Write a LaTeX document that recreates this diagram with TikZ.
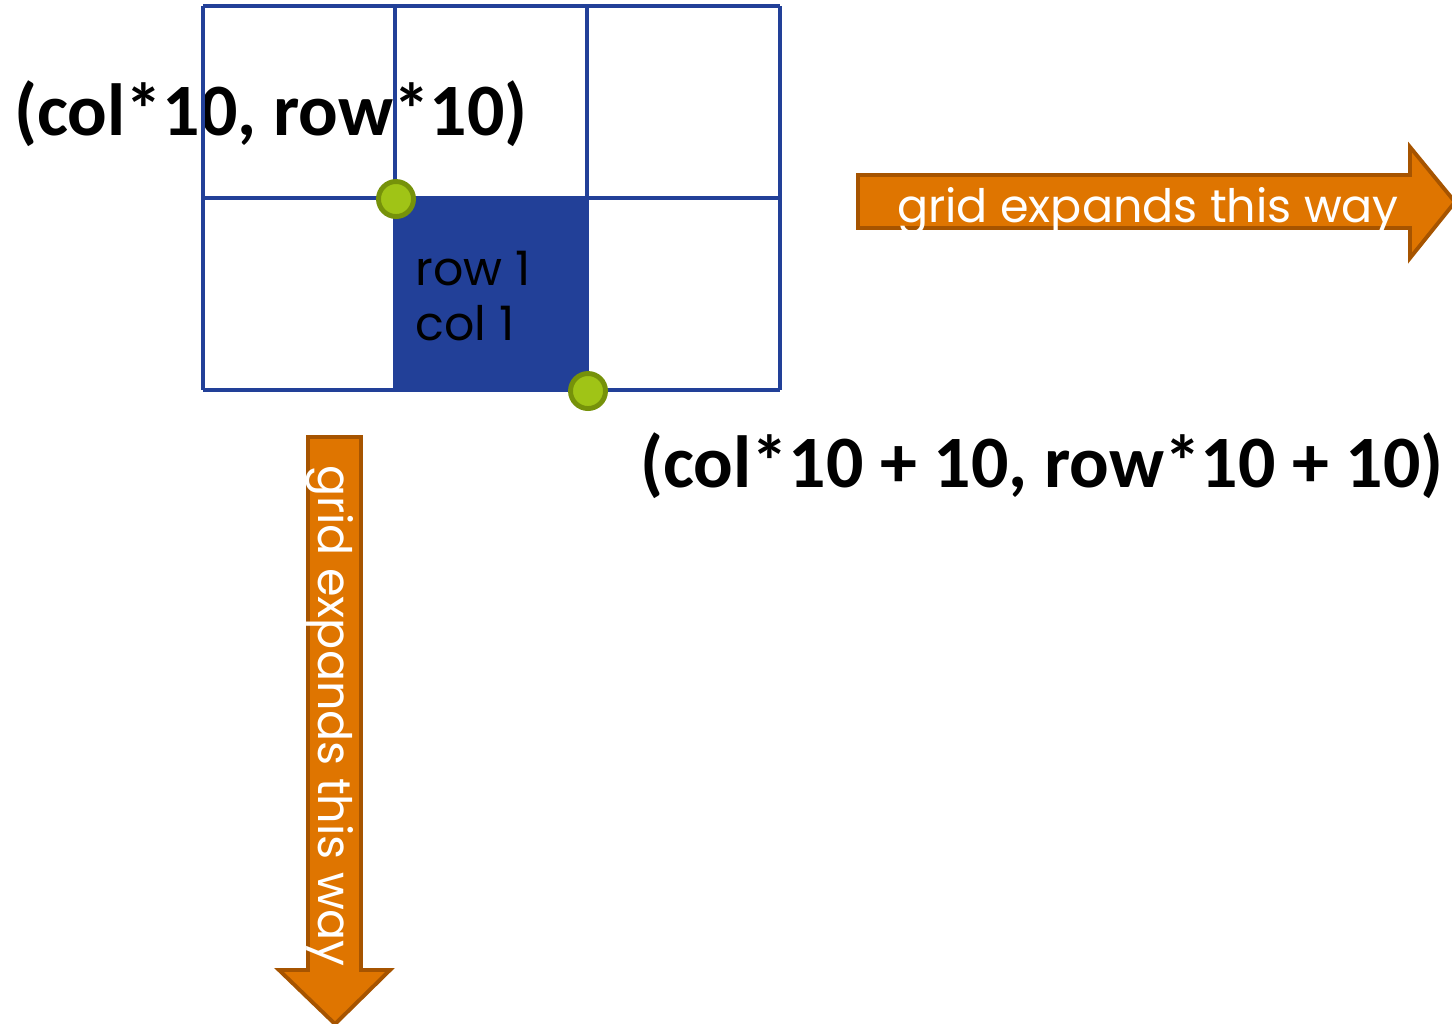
\documentclass[tikz,border=0pt]{standalone}
\usepackage{fontspec}
\setmainfont{Carlito}
\newfontfamily\gothic{Poppins}
\usepackage{tikz}

\definecolor{gridblue}{RGB}{34,64,152}
\definecolor{arroworange}{RGB}{223,117,0}
\definecolor{arrowedge}{RGB}{166,84,0}
\definecolor{dotgreen}{RGB}{160,196,22}
\definecolor{dotedge}{RGB}{118,146,10}

\tikzset{
 gridline/.style={draw=gridblue,line width=1.15pt},
 dot/.style={circle,fill=dotgreen,draw=dotedge,line width=1.4pt,minimum size=0.35cm,inner sep=0pt},
 growarrow/.style={fill=arroworange,draw=arrowedge,line width=1.1pt},
 growlbl/.style={text=white,inner sep=0pt,font=\gothic\fontsize{13.1}{15}\selectfont},
 celllbl/.style={inner sep=0pt,anchor=base west,font=\gothic\fontsize{13.5}{16}\selectfont},
 coordlbl/.style={inner sep=0pt,anchor=base,font=\bfseries\fontsize{21}{25}\selectfont}
}

\begin{document}
\begin{tikzpicture}[x=0.01cm,y=-0.01cm]
 \useasboundingbox (0,0) rectangle (1452,1023);
 % corner labels
 \node[coordlbl] (topleft) at (271,135) {(col*10, row*10)};
 \node[coordlbl] (botright) at (1042,487) {(col*10 + 10, row*10 + 10)};
 % the grid
 \fill[gridblue] (395,198) rectangle (588,390);
 \foreach \x in {203,395,587,780}
  \draw[gridline] (\x,6) -- (\x,390);
 \foreach \y in {6,198,390}
  \draw[gridline] (203,\y) -- (780,\y);
 \node[celllbl] (rowlbl) at (415,285) {row 1};
 \node[celllbl] (collbl) at (415,340) {col 1};
 \node[dot] (cornerA) at (396,199) {};
 \node[dot] (cornerB) at (588,391) {};
 % growth arrows
 \draw[growarrow] (858,175) -- (1410,175) -- (1410,147) -- (1455,202)
  -- (1410,258) -- (1410,228) -- (858,228) -- cycle;
 \node[growlbl,anchor=base] (rightlbl) at (1148,222) {grid expands this way};
 \draw[growarrow] (308,437) -- (361,437) -- (361,970) -- (390,970) -- (335,1024)
  -- (279,970) -- (308,970) -- cycle;
 \node[growlbl,anchor=base,rotate=-90] (downlbl) at (318,716) {grid expands this way};
\end{tikzpicture}
\end{document}
